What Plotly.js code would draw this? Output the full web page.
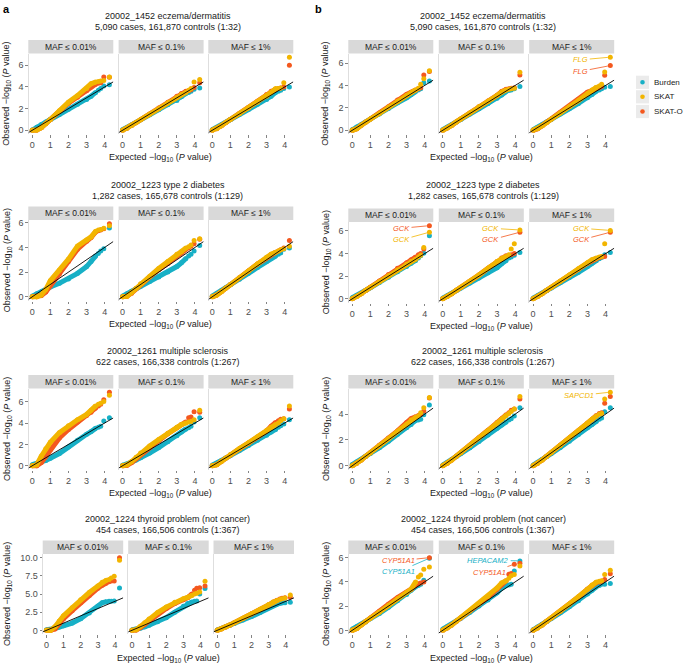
<!DOCTYPE html>
<html><head><meta charset="utf-8">
<script src="https://cdn.plot.ly/plotly-3.0.1.min.js"></script>
<style>html,body{margin:0;padding:0;background:#fff}#chart{width:685px;height:667px}</style>
</head><body><div id="chart"></div>
<script>
// ---------- data ----------
// expected -log10(P): dense band points, then the sparse top hits
const EXP_BAND = [0, 0.25, 0.5, 0.75, 1, 1.5, 2, 2.5, 3, 3.25, 3.5];
const EXP_TAIL = [3.65, 3.78, 3.95, 4.26];
const X_TICKS = [0, 1, 2, 3, 4];
const MAF_LABELS = ['MAF \u2264 0.01%', 'MAF \u2264 0.1%', 'MAF \u2264 1%'];
const SERIES_NAMES = ['Burden', 'SKAT', 'SKAT-O'];
const PHENO_NAMES = ['20002_1452 eczema/dermatitis', '20002_1223 type 2 diabetes',
  '20002_1261 multiple sclerosis', '20002_1224 thyroid problem (not cancer)'];
const PHENO_COUNTS = ['5,090 cases, 161,870 controls (1:32)', '1,282 cases, 165,678 controls (1:129)',
  '622 cases, 166,338 controls (1:267)', '454 cases, 166,506 controls (1:367)'];

// observed -log10(P): 11 band values then 4 tail values; one row per MAF level
const ECZ_A_BURDEN = [[0.02,0.28,0.55,0.78,1.0,1.45,1.95,2.4,2.85,3.15,3.5, 3.7,3.85,4.1,4.2],
  [0.05,0.25,0.5,0.74,0.97,1.43,1.9,2.35,2.75,3.1,3.4, 3.5,3.6,3.8,3.9],
  [0.05,0.27,0.5,0.74,0.98,1.45,1.92,2.4,2.85,3.15,3.5, 3.6,3.7,3.85,3.99]];
const ECZ_A_SKAT = [[0,0.02,0.25,0.6,1.0,1.8,2.6,3.2,3.85,4.3,4.45, 4.5,4.55,4.6,4.93],
  [0,0.2,0.45,0.72,0.98,1.48,2.0,2.55,3.05,3.3,3.5, 3.7,3.85,4.45,4.7],
  [0,0.15,0.42,0.72,1.0,1.52,2.05,2.6,3.15,3.5,3.85, 3.85,3.9,4.4,6.75]];
const ECZ_A_SKATO = [[0,0.02,0.25,0.6,0.98,1.75,2.5,3.05,3.65,4.0,4.25, 4.35,4.4,4.93,4.9],
  [0,0.2,0.45,0.72,0.98,1.5,2.05,2.6,3.15,3.4,3.6, 3.65,3.75,3.95,4.4],
  [0,0.15,0.42,0.72,1.0,1.55,2.1,2.65,3.3,3.6,3.8, 3.85,3.9,4.0,6.0]];

const T2D_A_BURDEN = [[0.05,0.25,0.4,0.6,0.8,1.1,1.45,1.9,2.45,2.85,3.3, 3.5,3.7,3.9,5.56],
  [0.05,0.25,0.45,0.65,0.85,1.25,1.6,2.0,2.45,2.75,3.1, 3.3,3.45,3.7,4.15],
  [0.05,0.27,0.5,0.74,0.97,1.43,1.9,2.38,2.85,3.1,3.3, 3.45,3.55,3.85,3.95]];
const T2D_A_SKAT = [[0,0,0.15,0.6,1.3,2.15,3.05,4.1,4.6,4.85,5.3, 5.4,5.45,5.55,5.75],
  [0,0.05,0.35,0.7,1.05,1.65,2.3,2.85,3.45,3.65,3.95, 4.05,4.2,4.55,4.7],
  [0,0.15,0.42,0.72,1.0,1.55,2.1,2.65,3.2,3.45,3.6, 3.7,3.8,3.9,4.1]];
const T2D_A_SKATO = [[0,0,0.1,0.4,0.9,1.85,2.85,3.85,4.5,4.8,5.25, 5.35,5.4,5.5,5.92],
  [0,0.05,0.3,0.65,1.0,1.6,2.2,2.7,3.3,3.55,3.85, 3.95,4.1,4.3,4.65],
  [0,0.15,0.42,0.72,1.0,1.55,2.1,2.65,3.15,3.4,3.6, 3.7,3.8,3.95,4.55]];

const MS_A_BURDEN = [[0.1,0.2,0.35,0.5,0.7,1.15,1.75,2.4,2.95,3.2,3.5, 3.6,3.7,4.19,4.5],
  [0.05,0.15,0.35,0.55,0.75,1.2,1.7,2.25,2.8,3.15,3.45, 3.55,3.7,4.1,4.5],
  [0.05,0.25,0.48,0.72,0.95,1.42,1.9,2.38,2.85,3.15,3.4, 3.6,3.75,3.9,4.3]];
const MS_A_SKAT = [[0,0.1,0.9,1.6,2.2,3.1,3.75,4.3,4.8,5.2,5.6, 5.75,5.85,6.0,6.6],
  [0,0.1,0.4,0.8,1.2,1.85,2.45,3.05,3.6,3.85,4.0, 4.1,4.15,4.3,5.2],
  [0,0.1,0.4,0.72,1.05,1.6,2.15,2.7,3.3,3.6,3.85, 4.0,4.2,4.4,5.6]];
const MS_A_SKATO = [[0,0,0.3,0.9,1.5,2.6,3.4,4.1,4.7,5.0,5.4, 5.6,5.75,6.17,6.88],
  [0,0.05,0.3,0.65,1.05,1.7,2.35,3.0,3.55,3.85,4.1, 4.5,4.55,5.06,5.0],
  [0,0.1,0.4,0.72,1.02,1.58,2.12,2.68,3.25,3.7,4.05, 4.2,4.35,4.4,5.3]];

const THY_A_BURDEN = [[0.1,0.1,0.25,0.45,0.65,1.0,1.6,2.4,3.3,3.8,3.95, 4.0,4.0,4.05,5.82],
  [0.05,0.15,0.3,0.5,0.7,1.2,1.75,2.5,3.3,3.7,3.9, 4.0,4.05,5.0,5.74],
  [0.05,0.25,0.48,0.72,0.95,1.42,1.9,2.45,3.1,3.4,3.6, 3.7,3.75,3.8,3.85]];
const THY_A_SKAT = [[0,0,0.5,1.3,2.0,3.1,4.2,5.2,6.1,6.6,6.9, 7.0,7.2,7.43,9.63],
  [0,0.1,0.55,1.05,1.55,2.45,3.2,3.85,4.35,4.55,4.8, 5.0,5.1,5.27,6.74],
  [0,0.2,0.45,0.75,1.05,1.65,2.3,2.9,3.55,3.9,4.1, 4.25,4.35,4.45,4.85]];
const THY_A_SKATO = [[0,0,0.2,0.9,1.6,2.7,3.8,4.8,5.8,6.2,6.5, 6.7,6.8,6.8,10.0],
  [0,0.05,0.4,0.85,1.35,2.2,3.0,3.7,4.2,4.5,5.0, 5.5,5.8,5.85,6.1],
  [0,0.2,0.45,0.75,1.05,1.62,2.25,2.85,3.5,3.85,4.15, 4.3,4.4,4.5,4.6]];

const ECZ_B_BURDEN = [[0.05,0.3,0.5,0.75,1.0,1.45,1.95,2.45,2.9,3.2,3.45, 3.6,3.7,4.25,4.4],
  [0.05,0.27,0.5,0.74,0.97,1.45,1.92,2.4,2.85,3.15,3.45, 3.55,3.6,3.7,3.91],
  [0.05,0.27,0.5,0.74,0.97,1.45,1.92,2.4,2.9,3.2,3.5, 3.6,3.7,3.85,3.91]];
const ECZ_B_SKAT = [[0,0.15,0.45,0.75,1.0,1.5,2.05,2.6,3.1,3.35,3.6, 3.75,4.1,4.6,5.3],
  [0,0.2,0.45,0.75,1.0,1.55,2.1,2.6,3.1,3.4,3.6, 3.65,3.7,3.75,5.17],
  [0,0.15,0.4,0.7,1.0,1.55,2.1,2.65,3.25,3.6,3.85, 3.95,4.1,5.2,6.52]];
const ECZ_B_SKATO = [[0,0.15,0.45,0.75,1.02,1.55,2.1,2.7,3.2,3.4,3.6, 3.7,3.8,4.93,5.25],
  [0,0.2,0.45,0.75,1.0,1.55,2.1,2.62,3.12,3.45,3.65, 3.7,3.75,3.8,4.93],
  [0,0.15,0.42,0.72,1.02,1.58,2.15,2.75,3.4,3.55,3.75, 3.8,3.9,4.9,5.77]];

const T2D_B_BURDEN = [[0.1,0.3,0.5,0.75,0.98,1.45,1.9,2.4,2.85,3.15,3.4, 3.6,3.8,4.04,5.57],
  [0.05,0.27,0.5,0.72,0.95,1.4,1.85,2.3,2.75,3.1,3.4, 3.6,3.7,3.85,4.1],
  [0.05,0.27,0.5,0.72,0.95,1.42,1.88,2.35,2.85,3.15,3.4, 3.55,3.65,3.9,4.1]];
const T2D_B_SKAT = [[0,0.2,0.45,0.75,1.0,1.5,2.05,2.55,3.05,3.3,3.5, 3.7,3.85,4.55,5.89],
  [0,0.2,0.45,0.75,1.0,1.55,2.1,2.7,3.3,3.55,3.75, 3.9,4.4,4.86,6.09],
  [0,0.2,0.45,0.75,1.0,1.55,2.1,2.65,3.2,3.45,3.6, 3.7,3.75,4.86,6.05]];
const T2D_B_SKATO = [[0,0.2,0.45,0.75,1.02,1.58,2.15,2.7,3.2,3.45,3.7, 3.9,4.0,4.4,6.47],
  [0,0.2,0.45,0.75,1.0,1.55,2.1,2.7,3.3,3.6,3.8, 3.85,3.9,4.0,5.89],
  [0,0.2,0.45,0.75,1.0,1.55,2.08,2.62,3.15,3.4,3.55, 3.65,3.7,3.75,5.89]];

const MS_B_BURDEN = [[0.1,0.3,0.5,0.75,0.95,1.4,1.9,2.45,2.95,3.2,3.5, 3.55,3.6,3.95,4.7],
  [0.05,0.25,0.48,0.72,0.95,1.4,1.88,2.38,2.9,3.15,3.4, 3.55,3.65,3.85,4.5],
  [0.05,0.25,0.48,0.72,0.95,1.42,1.9,2.42,2.95,3.2,3.45, 3.6,3.7,4.18,4.5]];
const MS_B_SKAT = [[0,0.2,0.45,0.75,1.0,1.55,2.1,2.65,3.2,3.55,3.75, 3.85,4.1,4.5,5.28],
  [0,0.2,0.45,0.75,1.02,1.58,2.15,2.72,3.3,3.6,3.9, 4.05,4.2,4.4,5.36],
  [0,0.2,0.45,0.75,1.02,1.58,2.15,2.72,3.3,3.6,3.85, 4.0,4.05,5.18,5.7]];
const MS_B_SKATO = [[0,0.2,0.45,0.75,1.02,1.6,2.15,2.7,3.35,3.65,3.8, 3.9,4.0,4.24,5.25],
  [0,0.2,0.45,0.75,1.02,1.6,2.18,2.75,3.35,3.65,3.95, 4.1,4.3,4.4,5.18],
  [0,0.2,0.45,0.75,1.02,1.6,2.15,2.72,3.3,3.6,3.9, 4.05,4.1,4.84,5.36]];

const THY_B_BURDEN = [[0.1,0.3,0.5,0.7,0.95,1.4,1.9,2.45,2.95,3.3,3.6, 3.7,3.8,4.13,5.95],
  [0.1,0.3,0.5,0.75,1.0,1.5,2.0,2.5,3.1,3.5,3.7, 3.75,3.8,4.9,5.73],
  [0.05,0.27,0.5,0.74,0.97,1.45,1.95,2.45,3.0,3.3,3.6, 3.7,3.8,3.8,3.86]];
const THY_B_SKAT = [[0,0.15,0.45,0.75,1.0,1.5,2.05,2.6,3.1,3.4,4.0, 4.4,4.57,5.04,5.23],
  [0,0.2,0.45,0.75,1.05,1.6,2.2,2.8,3.5,3.9,4.1, 4.3,4.5,4.6,5.31],
  [0,0.2,0.45,0.75,1.02,1.58,2.18,2.78,3.4,3.75,4.0, 4.05,4.1,4.6,4.96]];
const THY_B_SKATO = [[0,0.15,0.45,0.75,1.02,1.58,2.15,2.7,3.15,3.4,3.75, 3.85,3.9,4.0,6.0],
  [0,0.2,0.45,0.75,1.03,1.6,2.18,2.75,3.4,3.8,4.1, 4.63,4.7,5.45,5.54],
  [0,0.2,0.45,0.75,1.02,1.58,2.15,2.75,3.4,3.7,3.95, 4.0,4.05,4.2,4.68]];

// ---------- styling / layout ----------
const W = 685, H = 667;
const px = v => v / W;
const py = v => 1 - v / H;
const COLORS = {'Burden': '#17B0C6', 'SKAT': '#F2B500', 'SKAT-O': '#F4581E'};
const FONT = 'Liberation Sans, Arial, Helvetica, sans-serif';

const PANEL_X = {
  a: [[28.3, 113.3], [118.6, 203.6], [208.3, 293.3]],
  a4: [[42.7, 123.2], [128.2, 208.7], [213.5, 294]],
  b: [[348.3, 433.3], [438.8, 523.8], [529.2, 614.2]]
};
const ROW_Y_A = [[53.5, 134], [220, 300.5], [388.5, 469.5], [554, 634]];
const ROW_Y_B = [[53.5, 134], [222, 302.5], [388.5, 469.5], [554, 634]];
const TITLE_Y = [[16.5, 27.5], [185, 195.5], [351, 361.5], [519, 529.5]];

const GROUPS = [
  {col: 'a', row: 0, data: [ECZ_A_BURDEN, ECZ_A_SKAT, ECZ_A_SKATO]},
  {col: 'a', row: 1, data: [T2D_A_BURDEN, T2D_A_SKAT, T2D_A_SKATO]},
  {col: 'a', row: 2, data: [MS_A_BURDEN, MS_A_SKAT, MS_A_SKATO]},
  {col: 'a', row: 3, data: [THY_A_BURDEN, THY_A_SKAT, THY_A_SKATO], ticks: [0, 2.5, 5, 7.5, 10], tickText: ['0', '2.5', '5.0', '7.5', '10.0']},
  {col: 'b', row: 0, data: [ECZ_B_BURDEN, ECZ_B_SKAT, ECZ_B_SKATO]},
  {col: 'b', row: 1, data: [T2D_B_BURDEN, T2D_B_SKAT, T2D_B_SKATO]},
  {col: 'b', row: 2, data: [MS_B_BURDEN, MS_B_SKAT, MS_B_SKATO]},
  {col: 'b', row: 3, data: [THY_B_BURDEN, THY_B_SKAT, THY_B_SKATO]}
];

// gene call-outs: group index, panel, series, tail index, label, label position (data units)
const GENE_LABELS = [
  {g: 4, p: 2, s: 1, t: 3, text: 'FLG', tx: 2.63, ty: 6.28},
  {g: 4, p: 2, s: 2, t: 3, text: 'FLG', tx: 2.63, ty: 5.26},
  {g: 5, p: 0, s: 2, t: 3, text: 'GCK', tx: 2.72, ty: 6.24},
  {g: 5, p: 0, s: 1, t: 3, text: 'GCK', tx: 2.72, ty: 5.21},
  {g: 5, p: 1, s: 1, t: 3, text: 'GCK', tx: 2.66, ty: 6.24},
  {g: 5, p: 1, s: 2, t: 3, text: 'GCK', tx: 2.66, ty: 5.21},
  {g: 5, p: 2, s: 1, t: 3, text: 'GCK', tx: 2.66, ty: 6.24},
  {g: 5, p: 2, s: 2, t: 3, text: 'GCK', tx: 2.66, ty: 5.21},
  {g: 6, p: 2, s: 1, t: 3, text: 'SAPCD1', tx: 2.55, ty: 5.44},
  {g: 7, p: 0, s: 2, t: 3, text: 'CYP51A1', tx: 2.56, ty: 5.73},
  {g: 7, p: 0, s: 0, t: 3, text: 'CYP51A1', tx: 2.56, ty: 4.85},
  {g: 7, p: 1, s: 0, t: 3, text: 'HEPACAM2', tx: 2.51, ty: 5.79},
  {g: 7, p: 1, s: 2, t: 2, text: 'CYP51A1', tx: 2.58, ty: 4.77}
];

const X_RANGE = [-0.215, 4.475];
const DRAW_ORDER = [0, 2, 1]; // Burden, SKAT-O, SKAT (SKAT on top)

const traces = [];
const layout = {
  width: W, height: H, margin: {l: 0, r: 0, t: 0, b: 0},
  paper_bgcolor: '#ffffff', plot_bgcolor: '#ffffff', showlegend: false,
  font: {family: FONT, size: 9, color: '#1a1a1a'},
  shapes: [], annotations: []
};

function axisRef(k) { return k === 1 ? '' : String(k); }

GROUPS.forEach((grp, gi) => {
  const xs = grp.col === 'a' ? (grp.row === 3 ? PANEL_X.a4 : PANEL_X.a) : PANEL_X.b;
  const ys = grp.col === 'a' ? ROW_Y_A[grp.row] : ROW_Y_B[grp.row];
  let ymax = 0;
  grp.data.forEach(ser => ser.forEach(arr => arr.forEach(v => { if (v > ymax) ymax = v; })));
  const yRange = [-0.05 * ymax, 1.05 * ymax];

  for (let p = 0; p < 3; p++) {
    const k = gi * 3 + p + 1;
    const ref = axisRef(k);
    const [x0, x1] = xs[p];
    layout['xaxis' + ref] = {
      domain: [px(x0), px(x1)], range: X_RANGE, anchor: 'y' + ref,
      tickvals: X_TICKS, ticks: 'outside', ticklen: 2.5, tickwidth: 0.6, tickcolor: '#333',
      tickfont: {size: 9, color: '#4d4d4d', family: FONT},
      showgrid: false, zeroline: false, showline: false, fixedrange: true
    };
    const ya = {
      domain: [py(ys[1]), py(ys[0])], range: yRange, anchor: 'x' + ref,
      showticklabels: p === 0, ticks: p === 0 ? 'outside' : '', ticklen: 2.5, tickwidth: 0.6, tickcolor: '#333',
      tickfont: {size: 9, color: '#4d4d4d', family: FONT},
      showgrid: false, zeroline: false, showline: true, linecolor: '#c8c8c8', linewidth: 0.6, fixedrange: true
    };
    if (grp.ticks) { ya.tickvals = grp.ticks; ya.ticktext = grp.tickText; } else { ya.dtick = 2; ya.tick0 = 0; }
    layout['yaxis' + ref] = ya;

    DRAW_ORDER.forEach(si => {
      const vals = grp.data[si][p];
      const color = COLORS[SERIES_NAMES[si]];
      traces.push({
        type: 'scatter', mode: 'lines+markers', name: SERIES_NAMES[si],
        x: EXP_BAND, y: vals.slice(0, EXP_BAND.length),
        xaxis: 'x' + ref, yaxis: 'y' + ref, hoverinfo: 'skip',
        line: {color: color, width: 5, shape: 'linear'},
        marker: {color: color, size: 5}
      });
      traces.push({
        type: 'scatter', mode: 'markers', name: SERIES_NAMES[si],
        x: EXP_TAIL, y: vals.slice(EXP_BAND.length),
        xaxis: 'x' + ref, yaxis: 'y' + ref, hoverinfo: 'skip',
        marker: {color: color, size: 5}, cliponaxis: false
      });
    });
    // y = x reference line across the panel
    traces.push({
      type: 'scatter', mode: 'lines', x: [X_RANGE[0], X_RANGE[1]], y: [X_RANGE[0], X_RANGE[1]],
      xaxis: 'x' + ref, yaxis: 'y' + ref, hoverinfo: 'skip', showlegend: false,
      line: {color: '#000', width: 0.9}
    });

    // facet strip
    layout.shapes.push({type: 'rect', xref: 'paper', yref: 'paper', x0: px(x0), x1: px(x1),
      y0: py(ys[0]), y1: py(ys[0] - 13.5), fillcolor: '#d9d9d9', line: {width: 0}, layer: 'below'});
    layout.annotations.push({xref: 'paper', yref: 'paper', x: px((x0 + x1) / 2), y: py(ys[0] - 6.75),
      text: MAF_LABELS[p], showarrow: false, xanchor: 'center', yanchor: 'middle',
      font: {size: 8.5, color: '#1a1a1a', family: FONT}});
  }

  // titles
  const tcx = grp.col === 'a' ? 167.5 : 483;
  layout.annotations.push({xref: 'paper', yref: 'paper', x: px(tcx), y: py(TITLE_Y[grp.row][0]),
    text: PHENO_NAMES[grp.row], showarrow: false, xanchor: 'center', yanchor: 'middle', font: {size: 9, color: '#1a1a1a'}});
  layout.annotations.push({xref: 'paper', yref: 'paper', x: px(tcx), y: py(TITLE_Y[grp.row][1]),
    text: PHENO_COUNTS[grp.row], showarrow: false, xanchor: 'center', yanchor: 'middle', font: {size: 9, color: '#1a1a1a'}});
  // axis titles
  const xc = (xs[0][0] + xs[2][1]) / 2;
  layout.annotations.push({xref: 'paper', yref: 'paper', x: px(xc), y: py(ys[1] + 24),
    text: 'Expected \u2212log<sub>10</sub> (<i>P</i> value)', showarrow: false, xanchor: 'center', yanchor: 'middle',
    font: {size: 9, color: '#1a1a1a'}});
  layout.annotations.push({xref: 'paper', yref: 'paper', x: px(grp.col === 'a' ? 7 : 326), y: py((ys[0] + ys[1]) / 2),
    text: 'Observed \u2212log<sub>10</sub> (<i>P</i> value)', showarrow: false, textangle: -90,
    xanchor: 'center', yanchor: 'middle', font: {size: 9, color: '#1a1a1a'}});
});

// gene call-outs
GENE_LABELS.forEach(l => {
  const k = l.g * 3 + l.p + 1;
  const ref = axisRef(k);
  const vals = GROUPS[l.g].data[l.s][l.p];
  const color = COLORS[SERIES_NAMES[l.s]];
  layout.annotations.push({
    xref: 'x' + ref, yref: 'y' + ref, axref: 'x' + ref, ayref: 'y' + ref,
    x: EXP_TAIL[l.t], y: vals[EXP_BAND.length + l.t], ax: l.tx, ay: l.ty,
    text: '<i>' + l.text + '</i>', showarrow: true, arrowhead: 0, arrowwidth: 0.8,
    arrowcolor: color, standoff: 2.5, font: {size: 7.5, color: color}
  });
});

// panel letters
layout.annotations.push({xref: 'paper', yref: 'paper', x: px(1), y: py(1), text: '<b>a</b>', showarrow: false,
  xanchor: 'left', yanchor: 'top', font: {size: 11, color: '#000'}});
layout.annotations.push({xref: 'paper', yref: 'paper', x: px(313), y: py(1), text: '<b>b</b>', showarrow: false,
  xanchor: 'left', yanchor: 'top', font: {size: 11, color: '#000'}});

// legend (keys with grey background, like the reference)
const LEG_Y = [82.3, 96.8, 111.5];
SERIES_NAMES.forEach((name, i) => {
  const cy = LEG_Y[i];
  layout.shapes.push({type: 'rect', xref: 'paper', yref: 'paper', x0: px(636), x1: px(649),
    y0: py(cy + 6.6), y1: py(cy - 6.6), fillcolor: '#ebebeb', line: {width: 0}});
  layout.shapes.push({type: 'circle', xref: 'paper', yref: 'paper', x0: px(640.2), x1: px(644.8),
    y0: py(cy + 2.3), y1: py(cy - 2.3), fillcolor: COLORS[name], line: {width: 0}});
  layout.annotations.push({xref: 'paper', yref: 'paper', x: px(652), y: py(cy), text: name, showarrow: false,
    xanchor: 'left', yanchor: 'middle', font: {size: 8, color: '#1a1a1a'}});
});

Plotly.newPlot('chart', traces, layout, {staticPlot: true, displayModeBar: false});
</script></body></html>
